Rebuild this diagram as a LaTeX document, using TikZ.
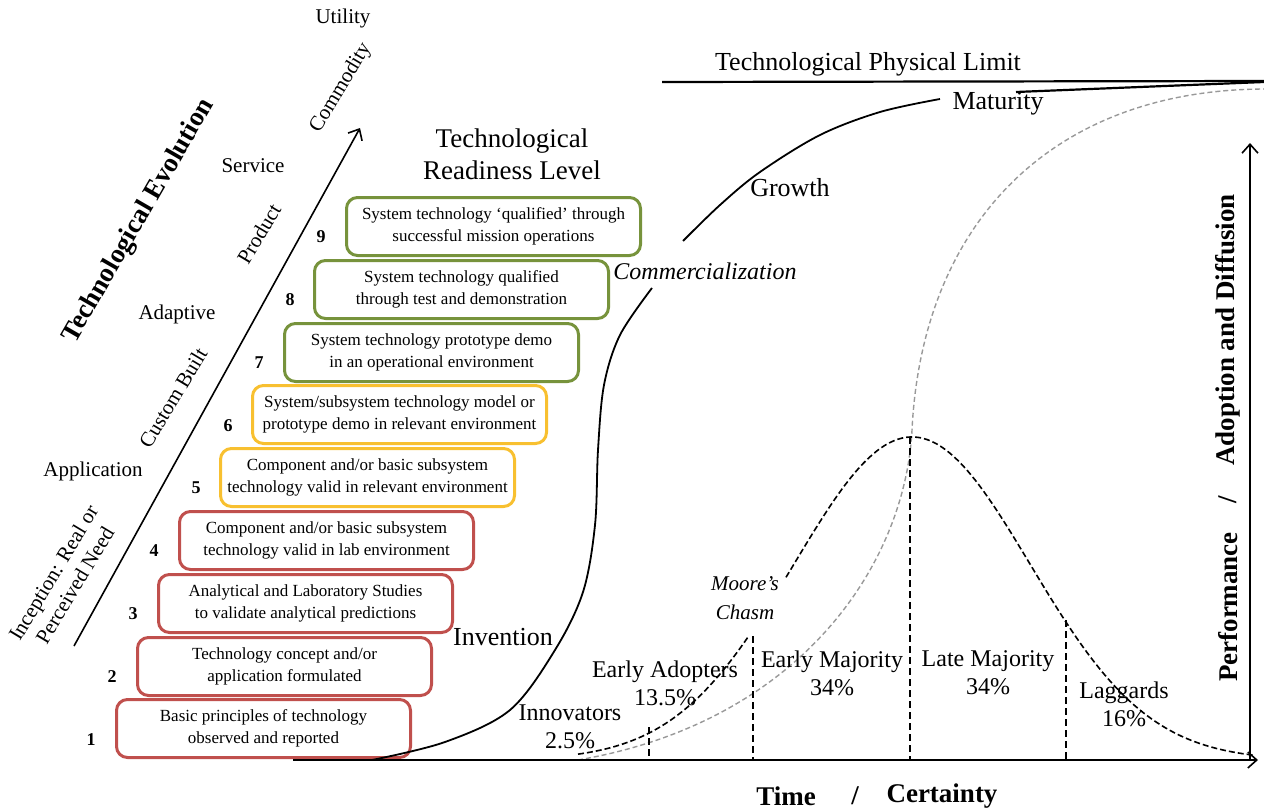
\documentclass[tikz,border=0pt]{standalone}
\usepackage{fontspec}
\setmainfont{Liberation Serif}
\usetikzlibrary{arrows.meta}
\definecolor{trlred}{HTML}{C0504D}
\definecolor{trlyellow}{HTML}{F8C030}
\definecolor{trlgreen}{HTML}{77933C}
\begin{document}
\begin{tikzpicture}[x=1pt,y=-1pt,
  trl/.style={draw, line width=3pt, rounded corners=11pt, minimum width=294pt, minimum height=58pt, inner sep=0pt, align=center, anchor=north west, font=\fontsize{17}{22}\selectfont},
  redbox/.style={trl, draw=trlred},
  yellowbox/.style={trl, draw=trlyellow},
  greenbox/.style={trl, draw=trlgreen},
  num/.style={font=\fontsize{18}{20}\selectfont\bfseries, inner sep=0pt},
  evo/.style={font=\fontsize{21}{25}\selectfont, inner sep=0pt, align=center},
  lbl/.style={font=\fontsize{24}{28}\selectfont, inner sep=0pt, align=center},
  big/.style={font=\fontsize{26}{32}\selectfont, inner sep=0pt, align=center},
  axislbl/.style={font=\fontsize{27}{30}\selectfont\bfseries, inner sep=0pt},
  barb/.style={-{Straight Barb[length=9pt,width=16pt,line width=1.6pt]}},
  bell/.style={dash pattern=on 6pt off 3pt, line width=1.6pt},
  graycurve/.style={dash pattern=on 5pt off 3pt, line width=1.4pt, draw=black!40},
  vdash/.style={dash pattern=on 7pt off 4pt, line width=1.2pt},
]
\useasboundingbox (0,0) rectangle (1264,811);

% ---------- Technological evolution arrow and labels ----------
\coordinate (evA) at (74,646);
\coordinate (evB) at (360,128);
\draw[barb, line width=1.6pt] (evA) -- (evB);

\node[evo] (utility) at (343,18) {Utility};
\node[evo, rotate=59] (commodity) at (341,88) {Commodity};
\node[evo] (service) at (253,166) {Service};
\node[evo, rotate=59] (product) at (259,234) {Product};
\node[evo] (adaptive) at (177,314) {Adaptive};
\node[evo, rotate=59] (custom) at (173,398) {Custom Built};
\node[evo] (application) at (93,471) {Application};
\node[evo, rotate=59] (inception) at (64,579) {Inception: Real or\\Perceived Need};
\node[font=\fontsize{27}{32}\selectfont\bfseries, rotate=60, inner sep=0pt] (techevo) at (139,221) {Technological Evolution};

% ---------- TRL boxes ----------
\node[big, font=\fontsize{27}{32}\selectfont] (trltitle) at (512,154) {Technological\\Readiness Level};

\node[redbox] (b1) at (115,698) {Basic principles of technology\\observed and reported};
\node[redbox] (b2) at (136,636) {Technology concept and/or\\application formulated};
\node[redbox] (b3) at (157,573) {Analytical and Laboratory Studies\\to validate analytical predictions};
\node[redbox] (b4) at (178,510) {Component and/or basic subsystem\\technology valid in lab environment};
\node[yellowbox] (b5) at (219,447) {Component and/or basic subsystem\\technology valid in relevant environment};
\node[yellowbox] (b6) at (251,384) {System/subsystem technology model or\\prototype demo in relevant environment};
\node[greenbox] (b7) at (283,322) {System technology prototype demo\\in an operational environment};
\node[greenbox] (b8) at (313,259) {System technology qualified\\through test and demonstration};
\node[greenbox] (b9) at (345,196) {System technology ‘qualified’ through\\successful mission operations};

\node[num] (n1) at (91,740) {1};
\node[num] (n2) at (112,677) {2};
\node[num] (n3) at (133,614) {3};
\node[num] (n4) at (154,551) {4};
\node[num] (n5) at (196,488) {5};
\node[num] (n6) at (228,426) {6};
\node[num] (n7) at (259,363) {7};
\node[num] (n8) at (290,300) {8};
\node[num] (n9) at (321,237) {9};

% ---------- Right panel ----------
\coordinate (limA) at (662,82);
\coordinate (limB) at (1264,81);
\draw[line width=2.2pt] (limA) -- (limB);
\node[big] (limit) at (868,64) {Technological Physical Limit};

% adoption (cumulative) gray curve
\draw[graycurve] (578,760) .. controls (800,722) and (905,565) .. (912,430)
                 .. controls (922,225) and (1050,90) .. (1264,89);

% bell curve
\draw[bell] plot[domain=578:748, samples=50] (\x,{760-323*exp(-((\x-912)/118)^2/2)});
\draw[bell] plot[domain=786:1255, samples=110] (\x,{760-323*exp(-((\x-912)/118)^2/2)});

% vertical dividers
\draw[vdash] (649,727) -- (649,760);
\draw[vdash] (753,636) -- (753,760);
\draw[vdash] (910,437) -- (910,760);
\draw[vdash] (1066,620) -- (1066,760);

% technology S-curve
\draw[line width=1.8pt] plot[smooth, tension=0.55] coordinates {(372,760) (445,742) (510,710) (555,650) (583,592) (595,525) (598,450) (604,385) (620,335) (652,288)};
\draw[line width=1.8pt] plot[smooth, tension=0.55] coordinates {(683,241) (720,205) (760,172) (820,135) (880,112) (940,99)};
\coordinate (matA) at (1016,92);
\coordinate (matB) at (1264,82);
\draw[line width=2.2pt] (matA) -- (matB);

\node[big] (maturity) at (998,104) {Maturity};
\node[big] (growth) at (790,188) {Growth};
\node[big, font=\fontsize{24}{28}\selectfont\itshape] (commerc) at (705,271) {Commercialization};
\node[big] (invention) at (503,637) {Invention};

\node[lbl, font=\fontsize{21}{29}\selectfont\itshape] (moore) at (745,598) {Moore’s\\Chasm};
\node[lbl] (innov) at (570,727) {Innovators\\2.5\%};
\node[lbl] (early) at (665,683) {Early Adopters\\13.5\%};
\node[lbl] (emaj) at (832,673) {Early Majority\\34\%};
\node[lbl] (lmaj) at (988,673) {Late Majority\\34\%};
\node[lbl] (lagg) at (1124,704) {Laggards\\16\%};

% axes
\coordinate (origin) at (293,760);
\coordinate (xend) at (1258,760);
\coordinate (ybase) at (1250,760);
\coordinate (yend) at (1250,143);
\draw[barb, line width=1.8pt] (origin) -- (xend);
\draw[barb, line width=1.8pt] (ybase) -- (yend);

\node[axislbl] (time) at (786,796) {Time};
\node[axislbl] (slash1) at (855,796) {/};
\node[axislbl] (certainty) at (942,796) {Certainty};

\node[axislbl, rotate=90] (perf) at (1228,607) {Performance};
\node[axislbl, rotate=90] (slash2) at (1228,500) {/};
\node[axislbl, rotate=90] (adopt) at (1228,330) {Adoption and Diffusion};
\end{tikzpicture}
\end{document}
